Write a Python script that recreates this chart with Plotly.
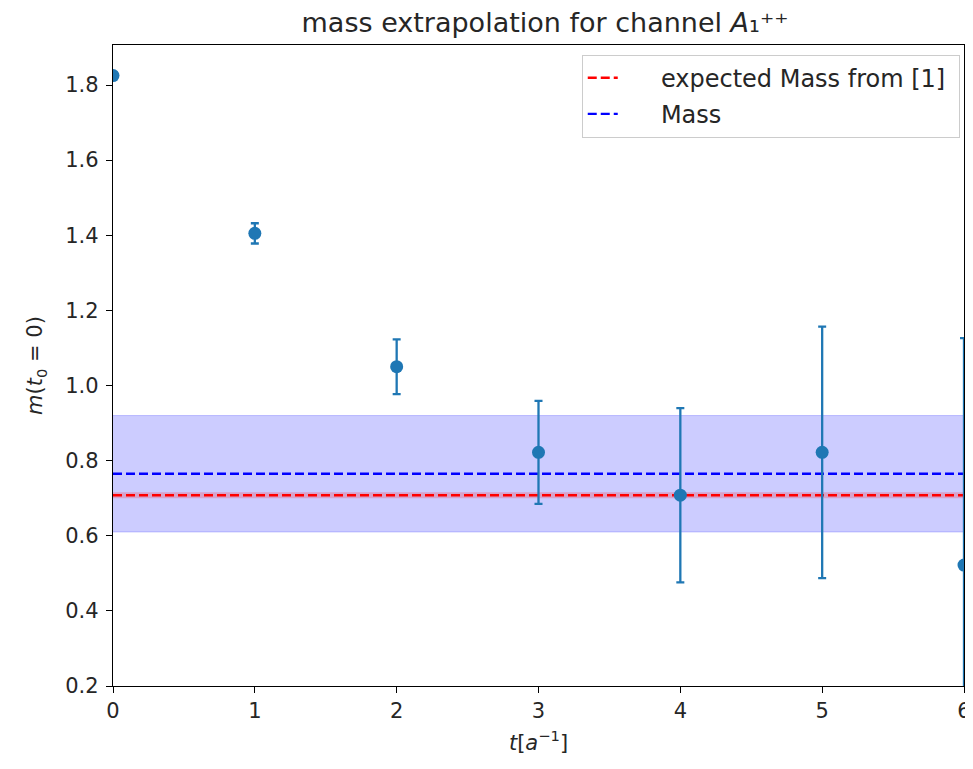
import plotly.graph_objects as go

# data
t_vals = [0, 1, 2, 3, 4, 5, 6]
mass_vals = [1.825, 1.405, 1.05, 0.822, 0.708, 0.822, 0.522]
mass_errs = [0.006, 0.027, 0.073, 0.137, 0.232, 0.335, 0.604]
fit_mass = 0.765
fit_err = 0.155
expected_mass = 0.708
expected_err = 0.008
x_span = [0, 6]
y_ticks = [0.2, 0.4, 0.6, 0.8, 1.0, 1.2, 1.4, 1.6, 1.8]
x_ticks = [0, 1, 2, 3, 4, 5, 6]

FONT = "DejaVu Sans"
blue = "#1f77b4"

fig = go.Figure()

# fit band
fig.add_trace(go.Scatter(x=x_span, y=[fit_mass - fit_err] * 2, mode="lines",
                         line=dict(color="rgba(0,0,255,0.2)", width=1),
                         showlegend=False, hoverinfo="skip"))
fig.add_trace(go.Scatter(x=x_span, y=[fit_mass + fit_err] * 2, mode="lines",
                         fill="tonexty", fillcolor="rgba(0,0,255,0.2)",
                         line=dict(color="rgba(0,0,255,0.2)", width=1),
                         showlegend=False, hoverinfo="skip"))
# expected band
fig.add_trace(go.Scatter(x=x_span, y=[expected_mass - expected_err] * 2, mode="lines",
                         line=dict(color="rgba(255,0,0,0.0)", width=0),
                         showlegend=False, hoverinfo="skip"))
fig.add_trace(go.Scatter(x=x_span, y=[expected_mass + expected_err] * 2, mode="lines",
                         fill="tonexty", fillcolor="rgba(255,0,0,0.2)",
                         line=dict(color="rgba(255,0,0,0.0)", width=0),
                         showlegend=False, hoverinfo="skip"))

# lines
fig.add_trace(go.Scatter(x=x_span, y=[expected_mass] * 2, mode="lines",
                         line=dict(color="red", width=2.4, dash="9px,4px"),
                         name="&nbsp;&nbsp;&nbsp;&nbsp;&nbsp;expected Mass from [1]&nbsp;",
                         legendgroup="a"))
fig.add_trace(go.Scatter(x=x_span, y=[fit_mass] * 2, mode="lines",
                         line=dict(color="blue", width=2.4, dash="9px,4px"),
                         name="&nbsp;&nbsp;&nbsp;&nbsp;&nbsp;Mass", legendgroup="b"))

# data points
fig.add_trace(go.Scatter(x=t_vals, y=mass_vals, mode="markers",
                         marker=dict(color=blue, size=13),
                         error_y=dict(type="data", array=mass_errs, visible=True,
                                      color=blue, thickness=2.3, width=4),
                         showlegend=False))

axis_common = dict(showline=True, linecolor="black", linewidth=1.3, mirror=True,
                   ticks="outside", ticklen=6, tickwidth=1.3, tickcolor="black",
                   showgrid=False, zeroline=False, automargin=False,
                   tickfont=dict(family=FONT, size=21, color="#262626"))

# page body has an 8px margin, so the figure is shifted by 8px
fig.update_layout(
    width=957, height=753,
    paper_bgcolor="white", plot_bgcolor="white",
    margin=dict(l=105, r=1, t=37, b=75),
    font=dict(family=FONT, color="#262626"),
    title=dict(text="mass extrapolation for channel <i>A</i>₁⁺⁺",
               x=537 / 957, xanchor="center", y=1 - 15 / 753, yanchor="middle",
               font=dict(family=FONT, size=27, color="#262626")),
    xaxis=dict(range=[0, 6], tickvals=x_ticks, ticklabeloverflow="allow",
               title=dict(text="<i>t</i>[<i>a</i><sup>−1</sup>]", font=dict(family=FONT, size=21),
                          standoff=12),
               **axis_common),
    yaxis=dict(range=[0.2, 1.9065], tickvals=y_ticks, ticktext=[f"{v:.1f}" for v in y_ticks],
               ticklabelstandoff=3,
               title=dict(text="<i>m</i>(<i>t</i><sub>0</sub> = 0)", font=dict(family=FONT, size=21),
                          standoff=16),
               **axis_common),
    legend=dict(x=0.995, xanchor="right", y=0.985, yanchor="top",
                bgcolor="rgba(255,255,255,0.8)", bordercolor="#cccccc", borderwidth=1,
                font=dict(family=FONT, size=24, color="#262626"),
                traceorder="grouped", tracegroupgap=2),
)

fig.write_html("out.html")
